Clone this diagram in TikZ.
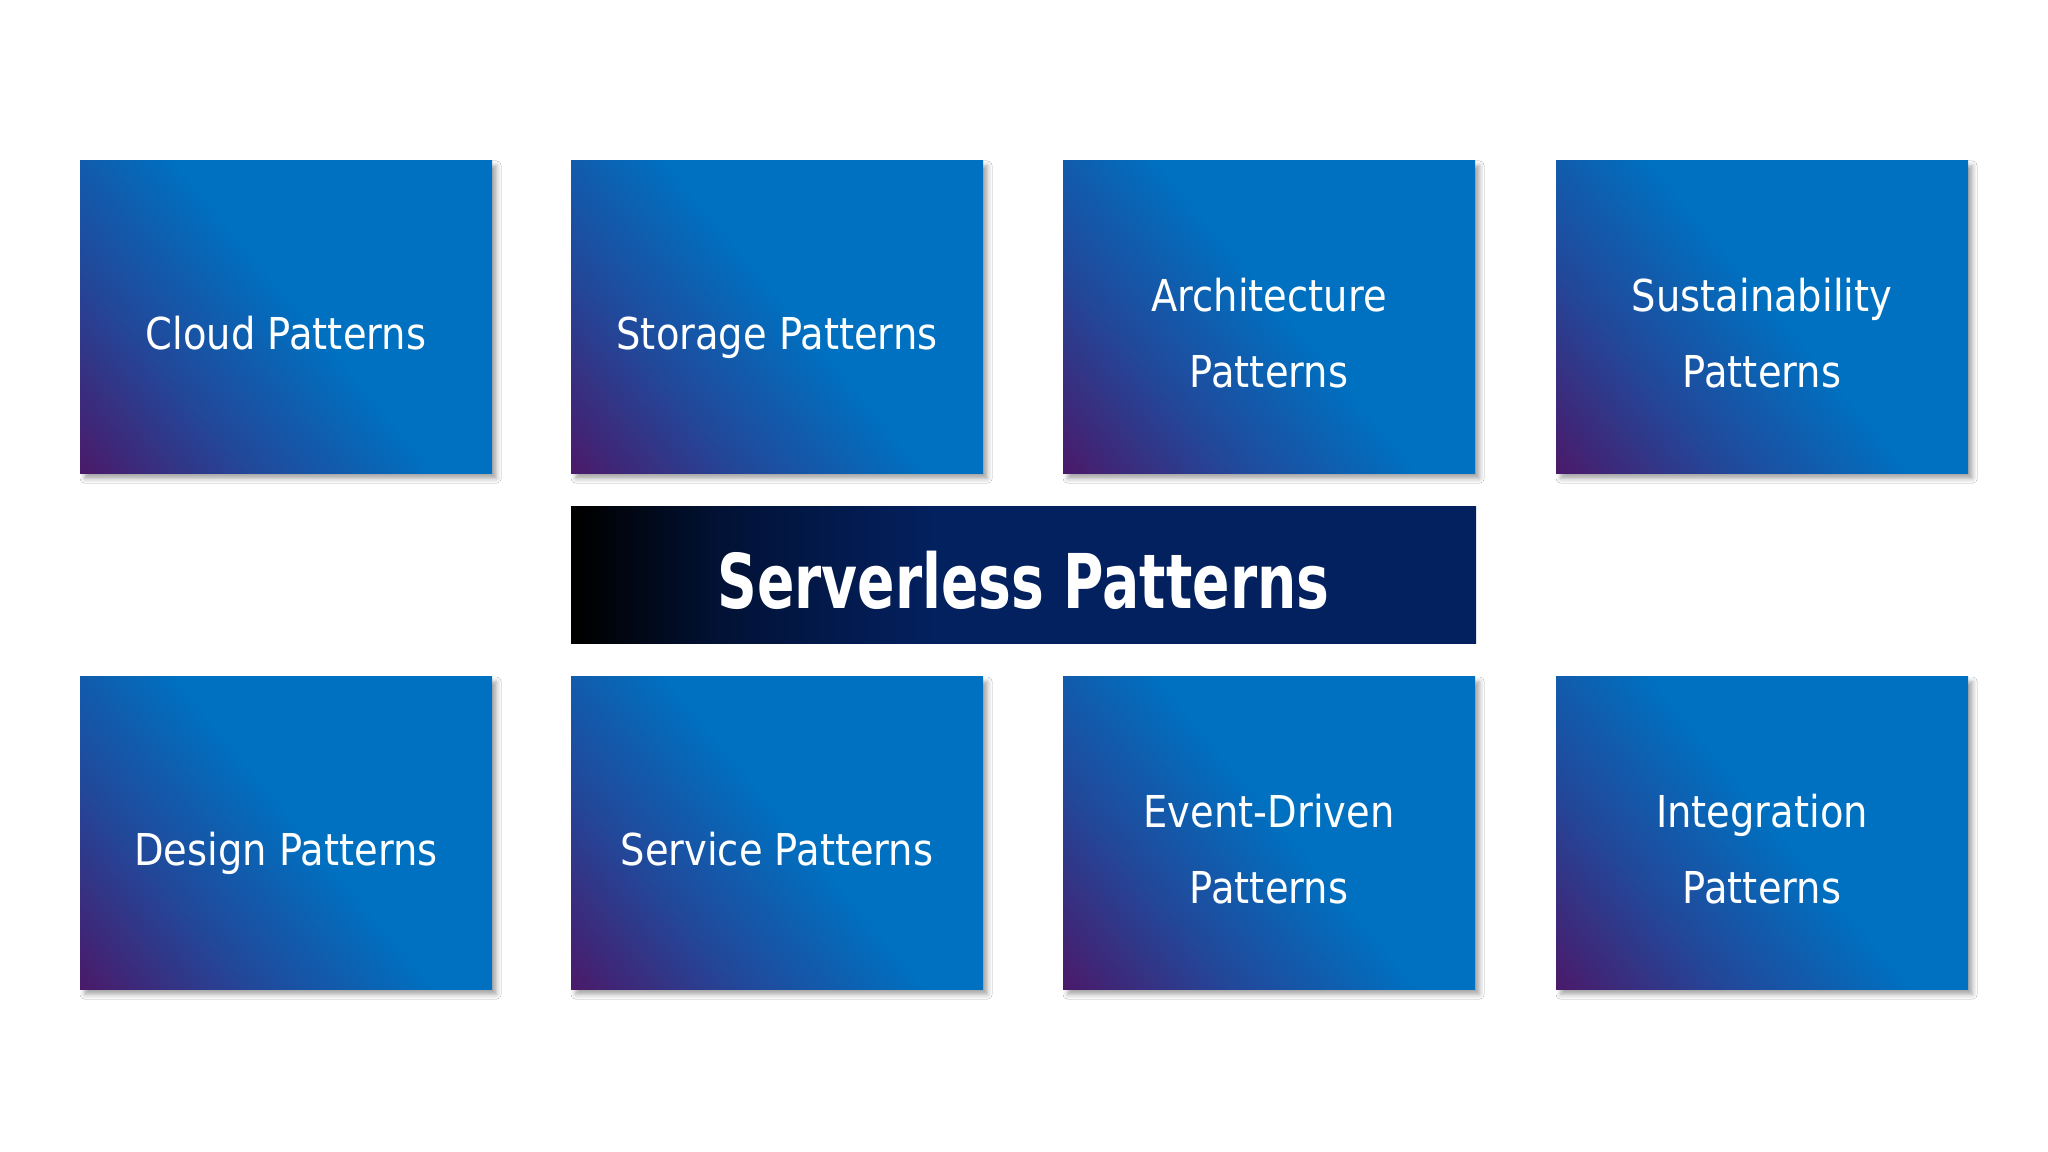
\documentclass[tikz,border=0pt]{standalone}
\usepackage{fontspec}
\setmainfont{DejaVu Sans}[FakeStretch=0.875]
\newfontfamily\titlefont{DejaVu Sans Bold}[FakeStretch=0.73]
\usetikzlibrary{shadows.blur}
\definecolor{purp}{HTML}{4A1A6A}
\definecolor{midb}{HTML}{22489A}
\definecolor{blu}{HTML}{0070C0}
\definecolor{navy}{HTML}{03205F}
\pgfdeclarehorizontalshading{boxshade}{100bp}{color(0bp)=(purp); color(15bp)=(purp); color(33bp)=(midb); color(52bp)=(blu); color(100bp)=(blu)}
\pgfdeclarehorizontalshading{titleshade}{100bp}{color(0bp)=(black); color(25.5bp)=(black); color(33bp)=(navy!55!black); color(45bp)=(navy); color(100bp)=(navy)}
\tikzset{
  card/.style={draw=none, shading=boxshade, shading angle=40,
    minimum width=41.2mm, minimum height=31.3mm, inner sep=0pt,
    blur shadow={shadow xshift=1.3pt, shadow yshift=-1.3pt, shadow blur radius=1.3pt, shadow opacity=35}},
  cardtext/.style={text=white, align=center, font=\fontsize{12.5}{21.6}\selectfont, inner sep=0pt},
  titlebox/.style={draw=none, shading=titleshade, shading angle=0,
    minimum width=90.5mm, minimum height=13.7mm, inner sep=0pt},
  titletext/.style={text=white, font=\titlefont\fontsize{21.5}{24}\selectfont, inner sep=0pt}
}
\begin{document}
\begin{tikzpicture}[x=0.1mm, y=-0.1mm]
\useasboundingbox[fill=white] (0,0) rectangle (2048,1152);
% top row
\node[card] (b1) at (286,317.5) {};
\node[card] (b2) at (777,317.5) {};
\node[card] (b3) at (1269,317.5) {};
\node[card] (b4) at (1762,317.5) {};
% bottom row
\node[card] (b5) at (286,833.5) {};
\node[card] (b6) at (777,833.5) {};
\node[card] (b7) at (1269,833.5) {};
\node[card] (b8) at (1762,833.5) {};
% title
\node[titlebox] (tb) at (1023.5,575.5) {};
\node[titletext] (tt) at (1023.5,580) {Serverless Patterns};
% texts
\node[cardtext, anchor=base] (t1) at (286,350) {Cloud Patterns};
\node[cardtext, anchor=base] (t2) at (777,350) {Storage Patterns};
\node[cardtext] (t3) at (1269,333) {Architecture\\Patterns};
\node[cardtext] (t4) at (1762,333) {Sustainability\\Patterns};
\node[cardtext, anchor=base] (t5) at (286,866) {Design Patterns};
\node[cardtext, anchor=base] (t6) at (777,866) {Service Patterns};
\node[cardtext] (t7) at (1269,849) {Event-Driven\\Patterns};
\node[cardtext] (t8) at (1762,849) {Integration\\Patterns};
\end{tikzpicture}
\end{document}
